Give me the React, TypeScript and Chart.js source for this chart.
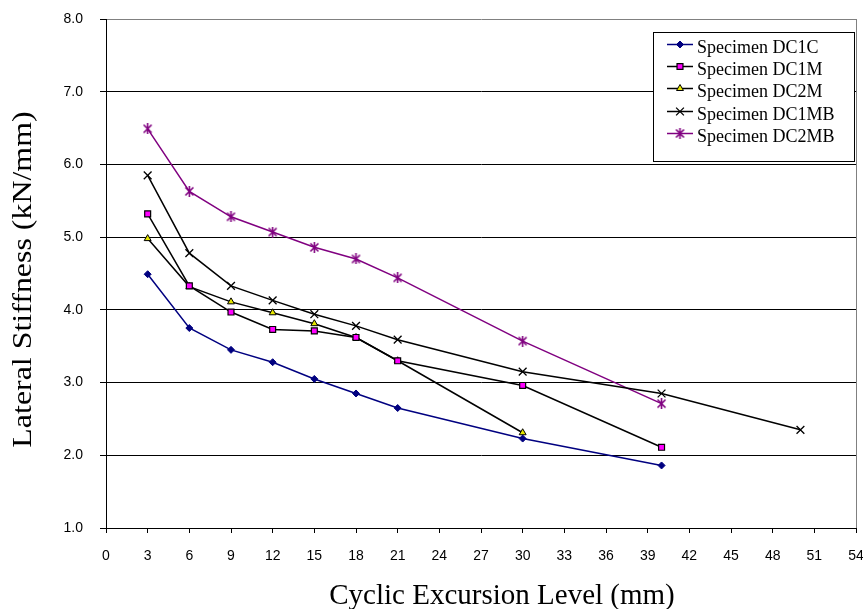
import React, { useEffect, useRef } from 'react';
import { Chart, registerables } from 'chart.js';
import { drawPoint } from 'chart.js/helpers';

Chart.register(...registerables);

// Cyclic excursion levels (mm) at which stiffness was measured
const excursionLevels = [3, 6, 9, 12, 15, 18, 21, 30, 40];
const excursionLevelsDC2M = [3, 6, 9, 12, 15, 18, 21, 30];
const excursionLevelsDC1MB = [3, 6, 9, 12, 15, 18, 21, 30, 40, 50];

// Lateral stiffness (kN/mm) per specimen
const stiffnessDC1C = [4.49, 3.75, 3.45, 3.28, 3.05, 2.85, 2.65, 2.23, 1.86];
const stiffnessDC1M = [5.32, 4.33, 3.97, 3.73, 3.71, 3.62, 3.30, 2.96, 2.11];
const stiffnessDC2M = [4.98, 4.32, 4.11, 3.96, 3.81, 3.62, 3.30, 2.31];
const stiffnessDC1MB = [5.85, 4.78, 4.33, 4.13, 3.94, 3.78, 3.59, 3.15, 2.85, 2.35];
const stiffnessDC2MB = [6.49, 5.63, 5.28, 5.07, 4.86, 4.70, 4.44, 3.57, 2.71];

const seriesLabels = [
  'Specimen DC1C',
  'Specimen DC1M',
  'Specimen DC2M',
  'Specimen DC1MB',
  'Specimen DC2MB',
];

const xAxisTitle = 'Cyclic Excursion Level (mm)';
const yAxisTitle = 'Lateral Stiffness (kN/mm)';

const xMin = 0;
const xMax = 54;
const xStep = 3;
const yMin = 1;
const yMax = 8;
const yStep = 1;

const SERIF = '"Liberation Serif", "Times New Roman", Times, serif';
const SANS = '"Liberation Sans", Arial, Helvetica, sans-serif';

const toPoints = (xs: number[], ys: number[]) => xs.map((x, i) => ({ x, y: ys[i] }));

// Asterisk marker: an X crossed by a vertical stroke
function makeAsterisk(color: string): HTMLCanvasElement {
  const c = document.createElement('canvas');
  c.width = 11;
  c.height = 11;
  const g = c.getContext('2d')!;
  g.strokeStyle = color;
  g.lineWidth = 1.6;
  g.beginPath();
  g.moveTo(1.5, 1.5);
  g.lineTo(9.5, 9.5);
  g.moveTo(9.5, 1.5);
  g.lineTo(1.5, 9.5);
  g.moveTo(5.5, 0);
  g.lineTo(5.5, 11);
  g.stroke();
  return c;
}

const plotFramePlugin = {
  id: 'plotFrame',
  beforeDatasetsDraw(chart: any) {
    const { ctx, chartArea } = chart;
    ctx.save();
    ctx.strokeStyle = '#808080';
    ctx.lineWidth = 1;
    ctx.beginPath();
    ctx.moveTo(Math.round(chartArea.right) + 0.5, chartArea.top);
    ctx.lineTo(Math.round(chartArea.right) + 0.5, chartArea.bottom);
    ctx.stroke();
    ctx.restore();
  },
};

const axisTitlesPlugin = {
  id: 'axisTitles',
  afterDraw(chart: any) {
    const { ctx, chartArea } = chart;
    ctx.save();
    ctx.fillStyle = '#000';
    ctx.textBaseline = 'alphabetic';
    ctx.textAlign = 'center';

    ctx.font = `29px ${SERIF}`;
    ctx.fillText(xAxisTitle, (chartArea.left + chartArea.right) / 2 + 21, chartArea.bottom + 76);

    ctx.translate(31, (chartArea.top + chartArea.bottom) / 2 + 6);
    ctx.rotate(-Math.PI / 2);
    ctx.scale(1.14, 1);
    ctx.font = `28px ${SERIF}`;
    ctx.fillText(yAxisTitle, 0, 0);
    ctx.restore();
  },
};

const boxedLegendPlugin = {
  id: 'boxedLegend',
  afterDraw(chart: any) {
    const { ctx, chartArea } = chart;
    const boxRight = chartArea.right - 2;
    const boxLeft = boxRight - 201;
    const boxTop = chartArea.top + 13;
    const boxHeight = 129;
    ctx.save();
    ctx.fillStyle = '#fff';
    ctx.fillRect(boxLeft, boxTop, boxRight - boxLeft, boxHeight);
    ctx.strokeStyle = '#000';
    ctx.lineWidth = 1;
    ctx.strokeRect(boxLeft + 0.5, boxTop + 0.5, boxRight - boxLeft, boxHeight);

    ctx.font = `18px ${SERIF}`;
    ctx.textAlign = 'left';
    ctx.textBaseline = 'alphabetic';
    chart.data.datasets.forEach((ds: any, i: number) => {
      const y = Math.round(boxTop + 12 + i * 22.2) + 0.5;
      ctx.strokeStyle = ds.borderColor;
      ctx.lineWidth = ds.borderWidth;
      ctx.beginPath();
      ctx.moveTo(boxLeft + 14, y);
      ctx.lineTo(boxLeft + 40, y);
      ctx.stroke();
      ctx.fillStyle = ds.pointBackgroundColor;
      ctx.strokeStyle = ds.pointBorderColor;
      ctx.lineWidth = ds.pointBorderWidth;
      drawPoint(ctx, { pointStyle: ds.pointStyle, radius: ds.pointRadius, borderWidth: ds.pointBorderWidth, rotation: 0 } as any, boxLeft + 27, y);
      ctx.fillStyle = '#000';
      ctx.fillText(ds.label, boxLeft + 44, y + 8);
    });
    ctx.restore();
  },
};

export default function App() {
  const canvasRef = useRef<HTMLCanvasElement>(null);

  useEffect(() => {
    const canvas = canvasRef.current;
    if (!canvas) return;

    const asterisk = makeAsterisk('#800080');

    const datasets = [
      {
        label: seriesLabels[0],
        data: toPoints(excursionLevels, stiffnessDC1C),
        borderColor: '#000080',
        borderWidth: 1.5,
        pointStyle: 'rectRot',
        pointRadius: 3.5,
        pointBackgroundColor: '#000080',
        pointBorderColor: '#000080',
        pointBorderWidth: 1,
      },
      {
        label: seriesLabels[1],
        data: toPoints(excursionLevels, stiffnessDC1M),
        borderColor: '#000000',
        borderWidth: 1.5,
        pointStyle: 'rect',
        pointRadius: 4.2,
        pointBackgroundColor: '#ff00ff',
        pointBorderColor: '#000000',
        pointBorderWidth: 1.2,
      },
      {
        label: seriesLabels[2],
        data: toPoints(excursionLevelsDC2M, stiffnessDC2M),
        borderColor: '#000000',
        borderWidth: 1.5,
        pointStyle: 'triangle',
        pointRadius: 4,
        pointBackgroundColor: '#e6e600',
        pointBorderColor: '#000000',
        pointBorderWidth: 1,
      },
      {
        label: seriesLabels[3],
        data: toPoints(excursionLevelsDC1MB, stiffnessDC1MB),
        borderColor: '#000000',
        borderWidth: 1.5,
        pointStyle: 'crossRot',
        pointRadius: 5.5,
        pointBackgroundColor: '#000000',
        pointBorderColor: '#000000',
        pointBorderWidth: 1.3,
      },
      {
        label: seriesLabels[4],
        data: toPoints(excursionLevels, stiffnessDC2MB),
        borderColor: '#800080',
        borderWidth: 1.5,
        pointStyle: asterisk,
        pointRadius: 5,
        pointBackgroundColor: '#800080',
        pointBorderColor: '#800080',
        pointBorderWidth: 1,
      },
    ];

    const chart = new Chart(canvas, {
      type: 'line',
      data: { datasets: datasets as any },
      options: {
        responsive: false,
        animation: false,
        devicePixelRatio: 1,
        layout: { padding: { top: 19, right: 7, left: 0, bottom: 0 } },
        elements: { line: { tension: 0, fill: false } },
        plugins: {
          legend: { display: false },
          tooltip: { enabled: false },
          title: { display: false },
        },
        scales: {
          x: {
            type: 'linear',
            min: xMin,
            max: xMax,
            ticks: {
              stepSize: xStep,
              autoSkip: false,
              maxRotation: 0,
              padding: 15,
              color: '#000',
              font: { family: SANS, size: 14 },
            },
            grid: {
              drawOnChartArea: false,
              drawTicks: true,
              tickLength: 5,
              color: '#000',
            },
            border: { display: true, color: '#000', width: 1 },
            afterFit: (scale: any) => {
              scale.height = 81;
              scale.paddingLeft = 0;
              scale.paddingRight = 0;
            },
          },
          y: {
            type: 'linear',
            min: yMin,
            max: yMax,
            ticks: {
              stepSize: yStep,
              padding: 17,
              color: '#000',
              font: { family: SANS, size: 14 },
              callback: (v: any) => Number(v).toFixed(1),
            },
            grid: {
              color: (ctx: any) => (ctx.tick && ctx.tick.value === yMax ? '#808080' : '#000'),
              tickColor: '#000',
              tickLength: 6,
              lineWidth: 1,
            },
            border: { display: true, color: '#000', width: 1 },
            afterFit: (scale: any) => {
              scale.width = 106;
              scale.paddingTop = 0;
              scale.paddingBottom = 0;
            },
          },
        },
      },
      plugins: [plotFramePlugin, axisTitlesPlugin, boxedLegendPlugin],
    });

    return () => chart.destroy();
  }, []);

  return (
    <div style={{ position: 'absolute', left: 0, top: 0, width: 863, height: 609, background: '#fff' }}>
      <canvas ref={canvasRef} width={863} height={609} style={{ display: 'block' }} />
    </div>
  );
}
